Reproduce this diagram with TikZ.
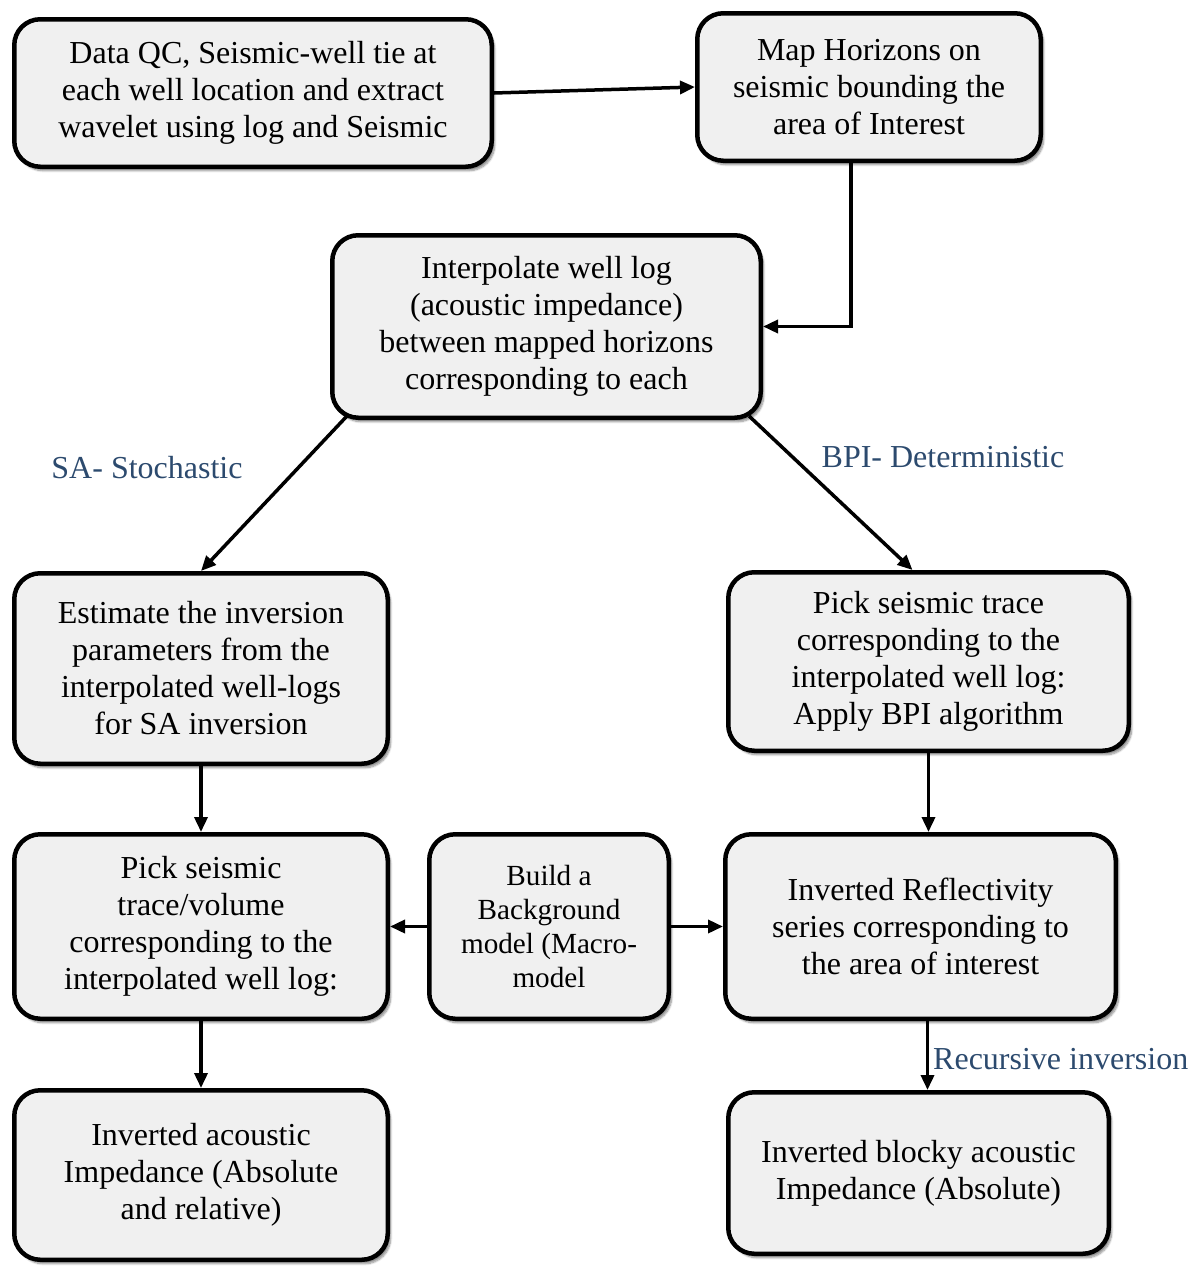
\documentclass[tikz,border=0pt]{standalone}
\usepackage{fontspec}
\setmainfont{Liberation Serif}
\usetikzlibrary{arrows.meta,shadows.blur}
\definecolor{boxfill}{HTML}{F0F0F0}
\definecolor{labelblue}{HTML}{2C4A6E}
\tikzset{
  procbox/.style={draw=black, line width=4.5pt, rounded corners=26pt, fill=boxfill,
    align=center, inner sep=0pt,
    blur shadow={shadow xshift=3pt, shadow yshift=-4pt, shadow blur steps=8, shadow opacity=45},
    font=\fontsize{32}{37}\selectfont},
  flow/.style={line width=3.5pt, -{Triangle[length=15pt,width=13pt]}},
  branchlabel/.style={text=labelblue, font=\fontsize{32}{36}\selectfont, inner sep=0pt}
}
\begin{document}
\begin{tikzpicture}[x=1pt,y=1pt]
\useasboundingbox (0,0) rectangle (1192,-1266);

% process boxes
\node[procbox, minimum width=477.5, minimum height=147.5] (qc) at (253,-93)
  {Data QC, Seismic-well tie at\\each well location and extract\\wavelet using log and Seismic};
\node[procbox, minimum width=343.5, minimum height=147.5] (map) at (869,-87)
  {Map Horizons on\\seismic bounding the\\area of Interest};
\node[procbox, minimum width=428.5, minimum height=182.5] (interp) at (546.5,-326.5)
  {Interpolate well log\\(acoustic impedance)\\between mapped horizons\\corresponding to each};
\node[procbox, minimum width=373.5, minimum height=190.5] (est) at (201,-668.5)
  {Estimate the inversion\\parameters from the\\interpolated well-logs\\for SA inversion};
\node[procbox, minimum width=400.5, minimum height=178.5] (pickR) at (928.5,-661.5)
  {Pick seismic trace\\corresponding to the\\interpolated well log:\\Apply BPI algorithm};
\node[procbox, minimum width=373.5, minimum height=184.5] (pickL) at (201,-926.5)
  {Pick seismic\\trace/volume\\corresponding to the\\interpolated well log:};
\node[procbox, minimum width=239.5, minimum height=184.5,
      font=\fontsize{29.2}{34}\selectfont] (build) at (549,-926.5)
  {Build a\\Background\\model (Macro-\\model};
\node[procbox, minimum width=390.5, minimum height=184.5] (refl) at (920.5,-926.5)
  {Inverted Reflectivity\\series corresponding to\\the area of interest};
\node[procbox, minimum width=373.5, minimum height=169.5] (invL) at (201,-1175)
  {Inverted acoustic\\Impedance (Absolute\\and relative)};
\node[procbox, minimum width=380.5, minimum height=161.5] (blocky) at (918.5,-1173)
  {Inverted blocky acoustic\\Impedance (Absolute)};

% connectors
\draw[flow] (qc.east) -- (map.west);
\draw[flow] ([xshift=-18pt]map.south) |- (interp.east);
\draw[flow] ([xshift=17pt,yshift=4pt]interp.south west) -- (est.north);
\draw[flow] ([xshift=-14pt,yshift=4pt]interp.south east) -- ([xshift=-16pt]pickR.north);
\draw[flow] (est.south) -- (pickL.north);
\draw[flow] (pickR.south) -- (pickR.south |- refl.north);
\draw[flow] (build.west) -- (pickL.east);
\draw[flow] (build.east) -- (refl.west);
\draw[flow] (pickL.south) -- (invL.north);
\draw[flow] ([xshift=7pt]refl.south) -- ([xshift=7pt]refl.south |- blocky.north);

% branch labels
\node[branchlabel] (sa) at (147,-468) {SA- Stochastic};
\node[branchlabel] (bpi) at (943,-457) {BPI- Deterministic};
\node[branchlabel, anchor=west] (rec) at (933,-1059) {Recursive inversion};
\end{tikzpicture}
\end{document}
